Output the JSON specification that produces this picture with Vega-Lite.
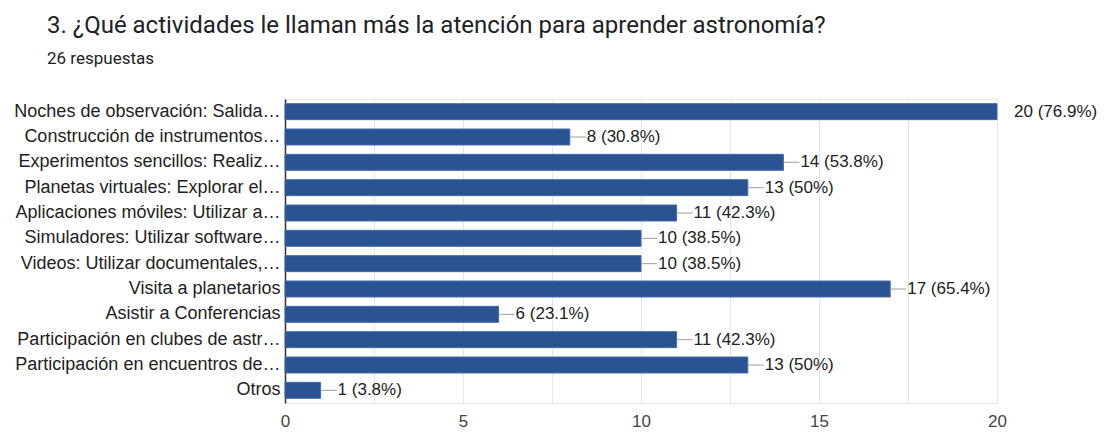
{
  "$schema": "https://vega.github.io/schema/vega-lite/v6.json",
  "autosize": "none",
  "width": 712,
  "height": 304,
  "padding": {"left": 285, "top": 99, "right": 114, "bottom": 30},
  "background": "#ffffff",
  "title": {
    "text": "3. ¿Qué actividades le llaman más la atención para aprender astronomía?",
    "subtitle": "26 respuestas",
    "anchor": "start",
    "frame": "group",
    "dx": -238,
    "offset": 32,
    "font": "Roboto",
    "fontSize": 24,
    "fontWeight": "normal",
    "color": "#202124",
    "subtitleFont": "Roboto",
    "subtitleFontSize": 17,
    "subtitleColor": "#202124",
    "subtitlePadding": 13
  },
  "config": {
    "view": {"stroke": "#e6e6e6", "strokeWidth": 1},
    "font": "Liberation Sans"
  },
  "data": {
    "values": [
      {"actividad": "Noches de observación: Salida…", "n": 20, "etiqueta": "20 (76.9%)"},
      {"actividad": "Construcción de instrumentos…", "n": 8, "etiqueta": "8 (30.8%)"},
      {"actividad": "Experimentos sencillos: Realiz…", "n": 14, "etiqueta": "14 (53.8%)"},
      {"actividad": "Planetas virtuales: Explorar el…", "n": 13, "etiqueta": "13 (50%)"},
      {"actividad": "Aplicaciones móviles: Utilizar a…", "n": 11, "etiqueta": "11 (42.3%)"},
      {"actividad": "Simuladores: Utilizar software…", "n": 10, "etiqueta": "10 (38.5%)"},
      {"actividad": "Videos: Utilizar documentales,…", "n": 10, "etiqueta": "10 (38.5%)"},
      {"actividad": "Visita a planetarios", "n": 17, "etiqueta": "17 (65.4%)"},
      {"actividad": "Asistir a Conferencias", "n": 6, "etiqueta": "6 (23.1%)"},
      {"actividad": "Participación en clubes de astr…", "n": 11, "etiqueta": "11 (42.3%)"},
      {"actividad": "Participación en encuentros de…", "n": 13, "etiqueta": "13 (50%)"},
      {"actividad": "Otros", "n": 1, "etiqueta": "1 (3.8%)"}
    ]
  },
  "encoding": {
    "y": {
      "field": "actividad",
      "type": "nominal",
      "sort": null,
      "title": null,
      "scale": {"paddingInner": 0.37, "paddingOuter": 0.185},
      "axis": {
        "domainColor": "#333333",
        "domainWidth": 1.5,
        "ticks": false,
        "labelFont": "Liberation Sans",
        "labelFontSize": 18,
        "labelColor": "#222222",
        "labelPadding": 5,
        "labelLimit": 300
      }
    }
  },
  "layer": [
    {
      "mark": {"type": "bar", "color": "#2a5391", "stroke": "#4169a8", "strokeWidth": 1},
      "encoding": {
        "x": {
          "field": "n",
          "type": "quantitative",
          "title": null,
          "scale": {"domain": [0, 20], "nice": false},
          "axis": {
            "values": [0, 2.5, 5, 7.5, 10, 12.5, 15, 17.5, 20],
            "labelExpr": "datum.value % 5 === 0 ? datum.label : ''",
            "labelFlush": false,
            "domain": false,
            "ticks": false,
            "gridColor": "#e6e6e6",
            "labelFont": "Liberation Sans",
            "labelFontSize": 17,
            "labelColor": "#444444",
            "labelPadding": 10
          }
        }
      }
    },
    {
      "transform": [{"filter": "datum.n < 20"}],
      "mark": {"type": "rule", "color": "#9e9e9e", "strokeWidth": 1, "x2Offset": 16},
      "encoding": {
        "x": {"field": "n", "type": "quantitative"},
        "x2": {"field": "n"}
      }
    },
    {
      "mark": {"type": "text", "align": "left", "baseline": "middle", "dx": 17, "font": "Liberation Sans", "fontSize": 17, "color": "#222222"},
      "encoding": {
        "x": {"field": "n", "type": "quantitative"},
        "text": {"field": "etiqueta"}
      }
    }
  ]
}
